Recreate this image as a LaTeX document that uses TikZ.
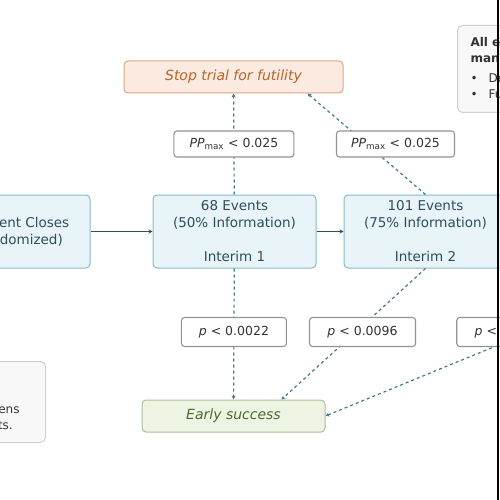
\documentclass[tikz,border=0pt]{standalone}
\usepackage{fontspec}
\setmainfont{DejaVu Sans}
\usetikzlibrary{arrows.meta}
\definecolor{phasefill}{HTML}{E8F4F8}
\definecolor{phaseline}{HTML}{86BACB}
\definecolor{phasetext}{HTML}{2E4E5C}
\definecolor{stopfill}{HTML}{FBEADF}
\definecolor{stopline}{HTML}{DDA684}
\definecolor{stoptext}{HTML}{B8642E}
\definecolor{winfill}{HTML}{EEF4E3}
\definecolor{winline}{HTML}{AFC097}
\definecolor{wintext}{HTML}{4C6A2C}
\definecolor{flowcol}{HTML}{3F7C8C}
\definecolor{notefill}{HTML}{F8F8F8}
\definecolor{noteline}{HTML}{D0D0D0}
\begin{document}
\begin{tikzpicture}[x=1pt, y=-1pt, line width=1pt,
  phase/.style={draw=phaseline, fill=phasefill, text=phasetext, rounded corners=4pt,
    minimum width=163pt, minimum height=73pt, align=center, font=\fontsize{13.5}{17}\selectfont},
  outcome/.style={rounded corners=4pt, minimum height=32pt, font=\fontsize{14}{17}\selectfont\itshape},
  gatebox/.style={solid, draw=gray!85, fill=white, text=black!80, rounded corners=3pt,
    line width=1.1pt, font=\fontsize{12.5}{15}\selectfont},
  notebox/.style={draw=noteline, fill=notefill, text=black!80, rounded corners=5pt,
    inner sep=8pt, font=\fontsize{12}{16}\selectfont},
  flow/.style={flowcol, dash pattern=on 3pt off 3pt, line width=1.2pt, -{Stealth[length=4pt, width=4pt]}},
  link/.style={phasetext, -{Stealth[length=4pt, width=4pt]}}]
  \useasboundingbox (0,0) rectangle (500,500);
  \clip (0,0) rectangle (500,500);
  \fill[white] (0,0) rectangle (500,500);

  % looks
  \node[phase] (enroll) at (8.5,231.5) {Enrollment Closes\\(N Randomized)};
  \node[phase] (int1) at (234.5,231.5) {68 Events\\(50\% Information)\\[17pt]Interim 1};
  \node[phase] (int2) at (425.5,231.5) {101 Events\\(75\% Information)\\[17pt]Interim 2};
  \coordinate (int3foot) at (686,268);

  % outcomes
  \node[outcome, draw=stopline, fill=stopfill, text=stoptext, minimum width=219pt] (stop) at (233.5,77) {Stop trial for futility};
  \node[outcome, draw=winline, fill=winfill, text=wintext, minimum width=183pt] (early) at (233.5,416) {Early success};

  % notes
  \node[notebox, anchor=north west, minimum height=87pt, inner xsep=13pt] (rules) at (457,25) {%
    \begin{tabular}{@{}l@{}}
      \textbf{All efficacy analyses}\\
      \textbf{managed by the DMC:}\\[4pt]
      \makebox[18pt][l]{\textbullet}Decision rules fixed\\
      \makebox[18pt][l]{\textbullet}Futility non-binding
    \end{tabular}};
  \node[notebox, anchor=south east, minimum height=81pt] (remark) at (46,443) {%
    \begin{tabular}{@{}l@{}}
      Dashed lines\\
      mark the\\
      boundary screens\\
      at target events.
    \end{tabular}\hspace*{18pt}};

  \draw[link] (enroll) -- (int1);
  \draw[link] (int1) -- (int2);

  \draw[flow] (int1) -- node[gatebox, minimum width=120pt, minimum height=26pt] (pp1)
    {\textit{PP}\textsubscript{max} < 0.025} (stop);
  \draw[flow] (int2.north) -- node[gatebox, minimum width=118pt, minimum height=26pt, xshift=29pt] (pp2)
    {\textit{PP}\textsubscript{max} < 0.025} ([xshift=74pt]stop.south);

  \draw[flow] (int1) -- node[gatebox, minimum width=105pt, minimum height=29pt, yshift=2pt] (p1)
    {\textit{p} < 0.0022} (early);
  \draw[flow] (int2.south) -- node[gatebox, minimum width=106pt, minimum height=29pt, xshift=9pt, yshift=2pt] (p2)
    {\textit{p} < 0.0096} ([xshift=48pt]early.north);
  \draw[flow] (int3foot) -- node[gatebox, minimum width=106pt, minimum height=29pt, xshift=4pt, yshift=10pt] (p3)
    {\textit{p} < 0.0221} (early.east);

  \draw[line width=1.5pt] (498,0) -- (498,500);
\end{tikzpicture}
\end{document}
